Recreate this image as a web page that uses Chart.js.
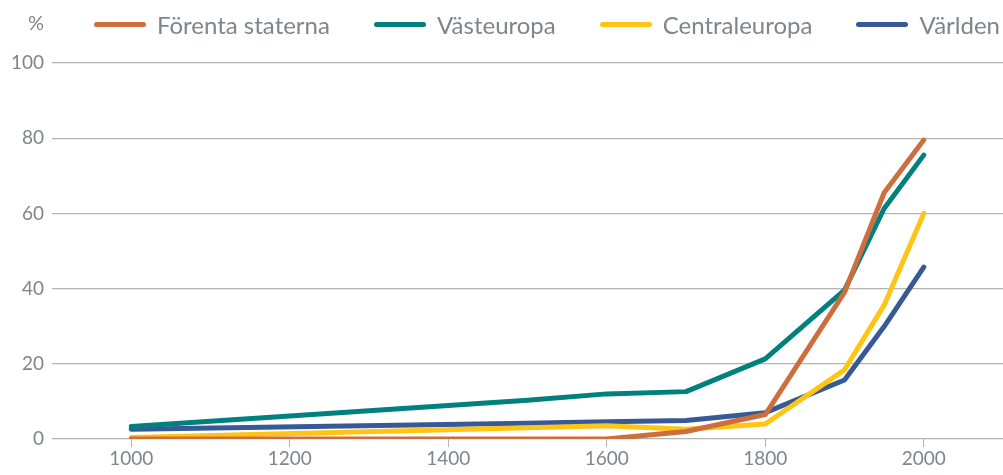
<!DOCTYPE html>
<html>
<head>
<meta charset="utf-8">
<script src="https://cdn.jsdelivr.net/npm/chart.js@4"></script>
<style>
  html, body { margin: 0; padding: 0; background: #fff; }
  #wrap { width: 1003px; height: 475px; position: relative; }
  #legend {
    position: absolute; top: 10px; right: 3px; height: 28px;
    display: flex; align-items: center; gap: 44px;
    font-family: Lato, "Open Sans", sans-serif; font-size: 24px; color: #7d868c;
  }
  #legend .item { display: flex; align-items: center; }
  #legend .swatch { width: 52px; height: 5px; border-radius: 3px; margin-right: 11px; }
</style>
</head>
<body>
<div id="wrap"><canvas id="chart"></canvas><div id="legend"></div></div>
<script>
const years = [1000, 1500, 1600, 1700, 1800, 1900, 1950, 2000];
const usa = [0, 0, 0, 2, 6.5, 39, 65.5, 79.5];
const westEurope = [3.3, 10.3, 12, 12.6, 21.3, 39.6, 61.3, 75.5];
const centralEurope = [0.4, 3, 3.5, 2.6, 4, 18.4, 35.6, 60];
const world = [2.6, 4.2, 4.6, 4.9, 7, 15.7, 29.9, 45.7];
const xTicks = [1000, 1200, 1400, 1600, 1800, 2000];
const yTicks = [0, 20, 40, 60, 80, 100];

const grey = '#7d868c';
const gridGrey = '#b4b4b4';
const font = 'Lato, "Open Sans", sans-serif';

function series(label, values, color) {
    return {
        label: label,
        data: years.map((y, i) => ({ x: y, y: values[i] })),
        borderColor: color,
        backgroundColor: color,
        borderWidth: 5,
        borderCapStyle: 'round',
        borderJoinStyle: 'round',
        pointRadius: 0,
        tension: 0,
        fill: false
    };
}

// "%" label above the y axis
const unitLabel = {
    id: 'unitLabel',
    afterDraw(chart) {
        const ctx = chart.ctx;
        ctx.save();
        ctx.fillStyle = grey;
        ctx.font = '20px ' + font;
        ctx.textAlign = 'center';
        ctx.textBaseline = 'middle';
        ctx.fillText('%', 36, 24);
        ctx.restore();
    }
};

const chart = new Chart(document.getElementById('chart'), {
    type: 'line',
    data: {
        datasets: [
            series('Förenta staterna', usa, '#cc6e3d'),
            series('Västeuropa', westEurope, '#00807f'),
            series('Centraleuropa', centralEurope, '#ffc414'),
            series('Världen', world, '#375a96')
        ]
    },
    options: {
        responsive: true,
        maintainAspectRatio: false,
        animation: false,
        layout: { padding: { top: 63, right: 0, left: 0, bottom: 0 } },
        plugins: {
            legend: { display: false },
            tooltip: { enabled: false }
        },
        scales: {
            x: {
                type: 'linear',
                min: 900,
                max: 2100,
                afterBuildTicks: axis => {
                    axis.ticks = xTicks.map(v => ({ value: v }));
                },
                afterFit: axis => { axis.height = 36; },
                border: { display: false },
                grid: {
                    drawOnChartArea: false,
                    drawTicks: true,
                    tickLength: 8,
                    color: gridGrey
                },
                ticks: {
                    color: grey,
                    padding: 0,
                    maxRotation: 0,
                    font: { family: font, size: 19 },
                    callback: v => String(v)
                }
            },
            y: {
                min: 0,
                max: 100,
                afterBuildTicks: axis => {
                    axis.ticks = yTicks.map(v => ({ value: v }));
                },
                afterFit: axis => { axis.width = 52; },
                border: { display: false },
                grid: {
                    drawTicks: false,
                    color: gridGrey,
                    lineWidth: 1.2
                },
                ticks: {
                    color: grey,
                    padding: 8,
                    font: { family: font, size: 19 }
                }
            }
        }
    },
    plugins: [unitLabel]
});

// legend built from the chart's own datasets
const legend = document.getElementById('legend');
chart.data.datasets.forEach(ds => {
    const item = document.createElement('div');
    item.className = 'item';
    const sw = document.createElement('span');
    sw.className = 'swatch';
    sw.style.background = ds.borderColor;
    const txt = document.createElement('span');
    txt.textContent = ds.label;
    item.appendChild(sw);
    item.appendChild(txt);
    legend.appendChild(item);
});
</script>
</body>
</html>
